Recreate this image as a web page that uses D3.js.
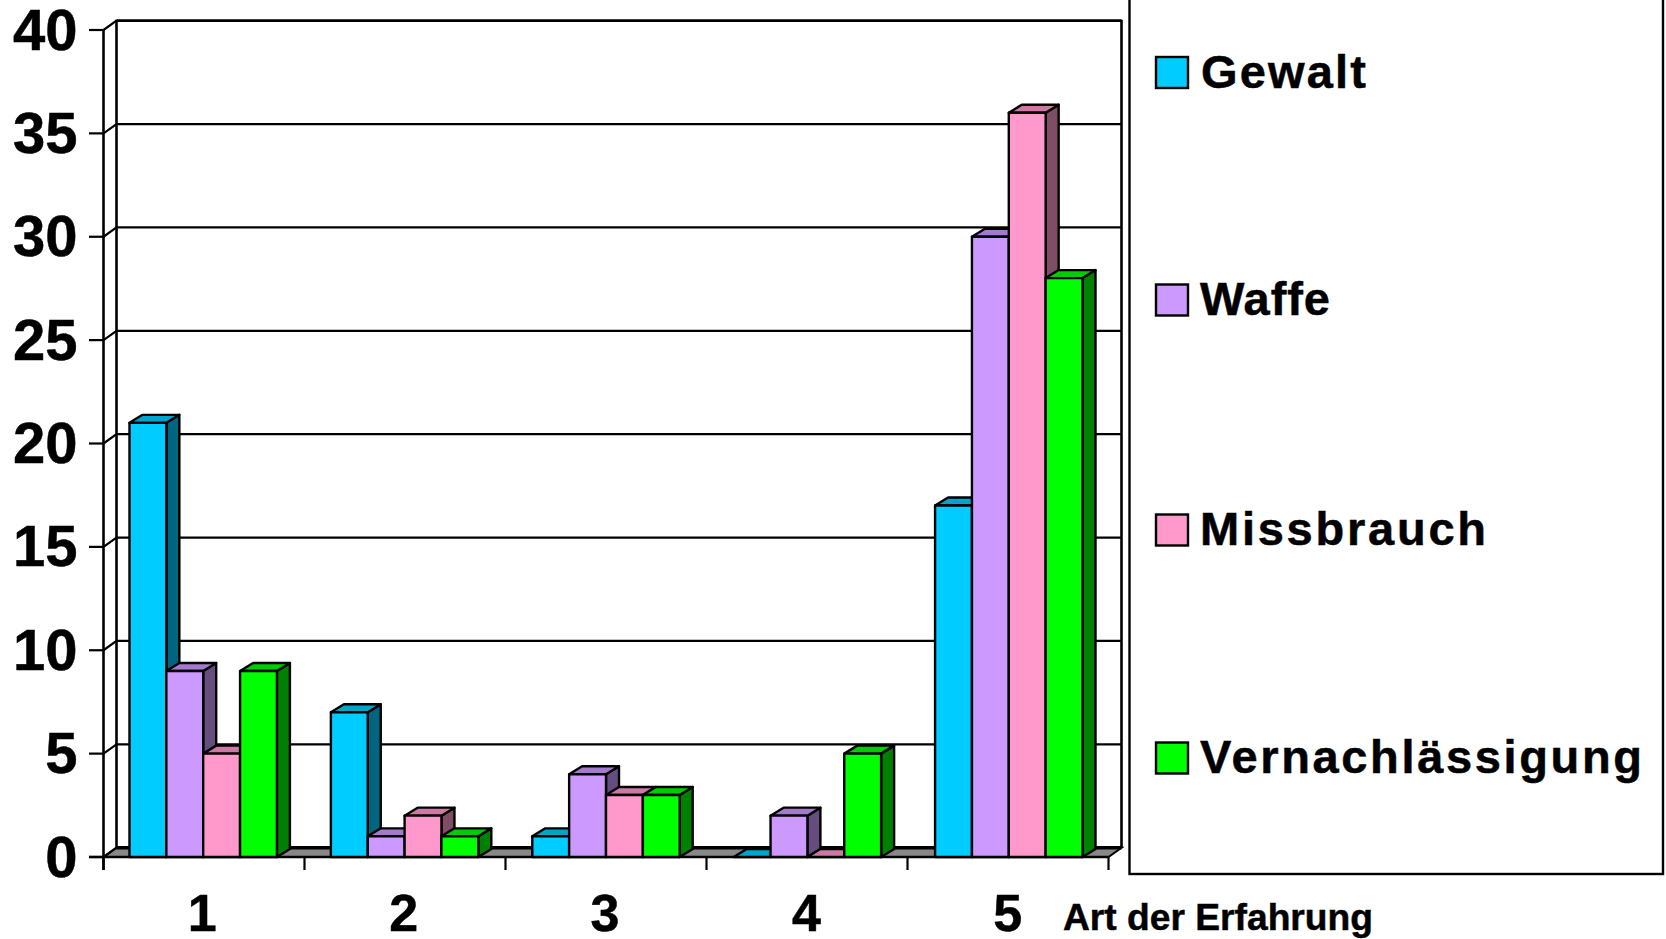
<!DOCTYPE html>
<html><head><meta charset="utf-8">
<script src="https://d3js.org/d3.v7.min.js"></script>
<style>html,body{margin:0;padding:0;background:#fff;overflow:hidden}text{font-family:"Liberation Sans",Arial,sans-serif;font-weight:700;fill:#000;stroke:#000;stroke-width:.5px}</style>
</head><body><svg id="c" width="1666" height="939"></svg>
<script>
const categories = ["1","2","3","4","5"];
const seriesNames = ["Gewalt","Waffe","Missbrauch","Vernachlässigung"];
const gewalt = [21,7,1,0,17];
const waffe = [9,1,4,2,30];
const missbrauch = [5,2,3,0,36];
const vernachlaessigung = [9,1,3,5,28];
const yTicks = [0,5,10,15,20,25,30,35,40];
const xAxisTitle = "Art der Erfahrung";
const fronts = ["#00CCFF","#CC99FF","#FF99CC","#00FF00"];
const tops = ["#00A3CC","#A37ACC","#CC7AA3","#00CC00"];
const sides = ["#006680","#664D80","#804D66","#008000"];
const seriesValues = [gewalt,waffe,missbrauch,vernachlaessigung];

const svg = d3.select("#c");
const L=103.5,R=1108.5,DX=13,DYWALL=9.3,DXB=13,DYB=8;
const y = d3.scaleLinear().domain([0,40]).range([857,30]);
const x = d3.scaleBand().domain(categories).range([102.5,1109.5]).paddingInner(.268).paddingOuter(.134);
const xs = d3.scaleBand().domain(seriesNames).range([0,x.bandwidth()]);
const line=(g,x1,y1,x2,y2,w=2.2)=>g.append("line").attr("x1",x1).attr("y1",y1).attr("x2",x2).attr("y2",y2).attr("stroke","#000").attr("stroke-width",w);

const wall = svg.append("g");
wall.append("polygon").attr("points",[[L,y(0)],[L+DX,y(0)-DYWALL],[R+DX,y(0)-DYWALL],[R,y(0)]].join(" "))
  .attr("fill","#888").attr("stroke","#000").attr("stroke-width",2);
line(wall,L+DX,y(0)-DYWALL,R+DX,y(0)-DYWALL,3.4);
line(wall,L+DX,y(40)-DYWALL-1,L+DX,y(0)-DYWALL,2.6);
line(wall,R+DX,y(40)-DYWALL-1,R+DX,y(0)-DYWALL,2.6);
yTicks.forEach(t=>{
  if(t>0) line(wall,L+DX,y(t)-DYWALL,R+DX,y(t)-DYWALL,t===40?2.8:2.2);
  line(wall,L,y(t),L+DX,y(t)-DYWALL,2.2);
  line(wall,89,y(t),L,y(t),2.2);
  wall.append("text").attr("x",77.5).attr("y",y(t)+19.5).attr("text-anchor","end").attr("font-size",58).text(t);
});
line(wall,L,y(40),L,870,2.6);
line(wall,89,y(0),R,y(0),2.6);
d3.range(0,6).forEach(i=>{
  const tx=L+i*(R-L)/5;
  line(wall,tx,y(0),tx,870,2.2);
});

const bars = svg.append("g");
categories.forEach((c,ci)=>{
  seriesNames.forEach((s,si)=>{
    const v=seriesValues[si][ci], x0=x(c)+xs(s), w=xs.bandwidth(), yt=y(v), yb=y(0);
    const g=bars.append("g").attr("stroke","#000").attr("stroke-width",2.4).attr("stroke-linejoin","round");
    if(v>0) g.append("polygon").attr("points",[[x0+w,yt],[x0+w+DXB,yt-DYB],[x0+w+DXB,yb-DYB],[x0+w,yb]].join(" ")).attr("fill",sides[si]);
    g.append("polygon").attr("points",[[x0,yt],[x0+DXB,yt-DYB],[x0+w+DXB,yt-DYB],[x0+w,yt]].join(" ")).attr("fill",tops[si]);
    if(v>0) g.append("rect").attr("x",x0).attr("y",yt).attr("width",w).attr("height",yb-yt).attr("fill",fronts[si]);
  });
});

categories.forEach(c=>{
  svg.append("text").attr("x",x(c)+x.bandwidth()/2-1).attr("y",931).attr("text-anchor","middle").attr("font-size",52).text(c);
});
svg.append("text").attr("x",1063).attr("y",930).attr("font-size",37).attr("textLength",310).attr("lengthAdjust","spacingAndGlyphs").text(xAxisTitle);

svg.append("rect").attr("x",1129.5).attr("y",-10).attr("width",533.5).attr("height",884).attr("fill","#fff").attr("stroke","#000").attr("stroke-width",2.4);
const legendY = [72.5,300,530,758];
const ly = d3.scaleOrdinal().domain(seriesNames).range(legendY);
const legendTextEnd = [1366,1330,1486,1642];
const legendTextStart = [1201,1200,1200,1200];
seriesNames.forEach((s,i)=>{
  svg.append("rect").attr("x",1156).attr("y",ly(s)-15.5).attr("width",32).attr("height",31).attr("fill",fronts[i]).attr("stroke","#000").attr("stroke-width",2.4);
  svg.append("text").attr("x",legendTextStart[i]).attr("y",ly(s)+15).attr("font-size",47)
    .attr("textLength",legendTextEnd[i]-legendTextStart[i]).attr("lengthAdjust","spacing").text(s);
});
</script></body></html>
